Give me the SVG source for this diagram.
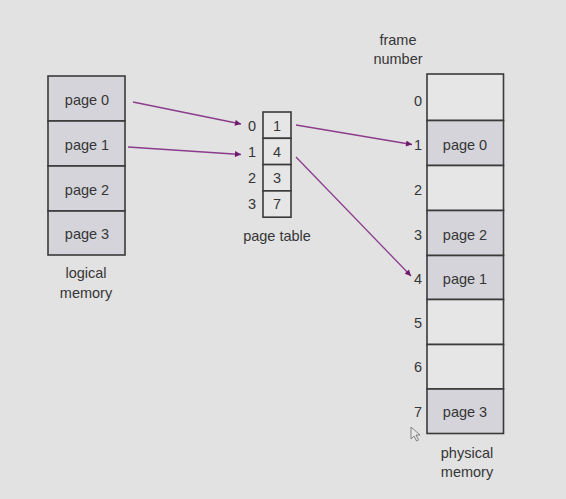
<svg xmlns="http://www.w3.org/2000/svg" width="566" height="499" viewBox="0 0 566 499">
<style>
text{font-family:"Liberation Sans",Arial,sans-serif;font-size:14.5px;fill:#363636;text-anchor:middle}
.full{fill:#d4d4da;stroke:#3a3a3a;stroke-width:1.6}
.empty{fill:#e6e6e6;stroke:#3a3a3a;stroke-width:1.6}
.cn{stroke:#8c3c8c;stroke-width:1.3;fill:none;marker-end:url(#ah)}
</style>
<defs>
<marker id="ah" viewBox="0 0 10 10" refX="10" refY="5" markerWidth="7" markerHeight="6" markerUnits="userSpaceOnUse" orient="auto">
<path d="M0,0 L10,5 L0,10 z" fill="#6e1a6e"/>
</marker>
</defs>
<rect width="566" height="499" fill="#e2e2e2"/>
<g id="logical-memory">
<rect class="full" x="48" y="76" width="77" height="45"/>
<rect class="full" x="48" y="121" width="77" height="45"/>
<rect class="full" x="48" y="166" width="77" height="45"/>
<rect class="full" x="48" y="211" width="77" height="44"/>
<text x="87" y="105">page 0</text>
<text x="87" y="150">page 1</text>
<text x="87" y="195">page 2</text>
<text x="87" y="239">page 3</text>
<text x="86" y="278">logical</text>
<text x="86" y="298">memory</text>
</g>
<g id="page-table">
<rect class="empty" x="263" y="112" width="28" height="26.3"/>
<rect class="empty" x="263" y="138.3" width="28" height="26.3"/>
<rect class="empty" x="263" y="164.6" width="28" height="26.3"/>
<rect class="empty" x="263" y="190.9" width="28" height="26.3"/>
<text x="277" y="130.5">1</text>
<text x="277" y="156.5">4</text>
<text x="277" y="183">3</text>
<text x="277" y="209">7</text>
<text x="252" y="130.5">0</text>
<text x="252" y="156.5">1</text>
<text x="252" y="183">2</text>
<text x="252" y="209">3</text>
<text x="277" y="241">page table</text>
</g>
<g id="physical-memory">
<rect class="empty" x="427" y="74" width="76.5" height="46.5"/>
<rect class="full" x="427" y="120.5" width="76.5" height="45"/>
<rect class="empty" x="427" y="165.5" width="76.5" height="45"/>
<rect class="full" x="427" y="210.5" width="76.5" height="45"/>
<rect class="full" x="427" y="255.5" width="76.5" height="44"/>
<rect class="empty" x="427" y="299.5" width="76.5" height="45"/>
<rect class="empty" x="427" y="344.5" width="76.5" height="44.5"/>
<rect class="full" x="427" y="389" width="76.5" height="44.5"/>
<text x="465" y="150">page 0</text>
<text x="465" y="239.5">page 2</text>
<text x="465" y="283.5">page 1</text>
<text x="465" y="416.5">page 3</text>
<text x="418" y="105.5">0</text>
<text x="418" y="150">1</text>
<text x="418" y="194.5">2</text>
<text x="418" y="239.5">3</text>
<text x="418" y="283.5">4</text>
<text x="418" y="327.5">5</text>
<text x="418" y="372">6</text>
<text x="418" y="416.5">7</text>
<text x="398" y="45">frame</text>
<text x="398" y="64">number</text>
<text x="467" y="458">physical</text>
<text x="467" y="477">memory</text>
</g>
<g id="connectors">
<line class="cn" x1="133" y1="102" x2="241" y2="124"/>
<line class="cn" x1="128" y1="147" x2="241" y2="154.5"/>
<line class="cn" x1="296" y1="125" x2="412" y2="144.5"/>
<line class="cn" x1="296" y1="157" x2="411" y2="276"/>
</g>
<path d="M411,427 L411,439 L414,436 L416.5,441 L418.5,440 L416,435 L420,435 z" fill="#e8e8e8" stroke="#777" stroke-width="0.9"/>
</svg>
